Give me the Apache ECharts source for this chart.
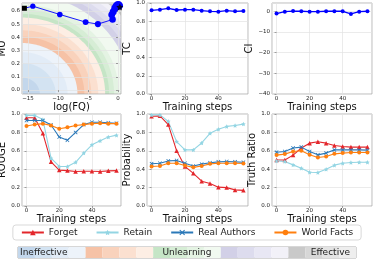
<!DOCTYPE html>
<html><head><meta charset="utf-8">
<script src="https://cdn.jsdelivr.net/npm/echarts@6/dist/echarts.min.js"></script>
<style>html,body{margin:0;padding:0;background:#fff}#c{width:374px;height:260px}</style>
</head><body><div id="c"></div>
<script>
// ---------- data ----------
const steps = [0, 5, 10, 15, 20, 25, 30, 35, 40, 45, 50, 55];
const logFQ = [-15.6, -14.2, -9.7, -5.4, -3.35, -0.9, -1.05, -0.8, -0.5, -0.25, 0.0, 0.15];
const muVals = [0.62, 0.636, 0.573, 0.515, 0.50, 0.535, 0.57, 0.593, 0.62, 0.636, 0.645, 0.64];
const refFQ = [0.3];
const refMU = [0.63];
const tcVals = [0.919, 0.927, 0.941, 0.923, 0.927, 0.927, 0.916, 0.908, 0.905, 0.916, 0.908, 0.912];
const ciVals = [-1.1, -0.2, 0.1, 0.0, -0.2, -0.2, 0.0, 0.0, 0.0, -1.3, -0.2, 0.0];

const rougeForget  = [0.96, 0.96, 0.79, 0.48, 0.39, 0.385, 0.375, 0.378, 0.378, 0.375, 0.382, 0.385];
const rougeRetain  = [0.985, 0.985, 0.94, 0.52, 0.43, 0.43, 0.475, 0.575, 0.665, 0.71, 0.75, 0.77];
const rougeReal    = [0.93, 0.93, 0.93, 0.88, 0.75, 0.715, 0.80, 0.885, 0.91, 0.91, 0.905, 0.90];
const rougeWorld   = [0.87, 0.885, 0.895, 0.875, 0.84, 0.855, 0.875, 0.885, 0.895, 0.90, 0.895, 0.895];

const probForget   = [0.975, 0.98, 0.885, 0.60, 0.43, 0.355, 0.27, 0.245, 0.205, 0.20, 0.175, 0.17];
const probRetain   = [0.99, 0.99, 0.92, 0.70, 0.61, 0.61, 0.685, 0.79, 0.835, 0.865, 0.875, 0.89];
const probReal     = [0.46, 0.465, 0.49, 0.495, 0.465, 0.435, 0.455, 0.47, 0.48, 0.483, 0.48, 0.476];
const probWorld    = [0.43, 0.435, 0.465, 0.465, 0.44, 0.42, 0.435, 0.458, 0.465, 0.465, 0.465, 0.462];

const trForget     = [0.50, 0.50, 0.553, 0.63, 0.683, 0.698, 0.683, 0.658, 0.647, 0.64, 0.64, 0.64];
const trRetain     = [0.49, 0.484, 0.447, 0.41, 0.367, 0.364, 0.40, 0.444, 0.465, 0.473, 0.476, 0.476];
const trReal       = [0.585, 0.593, 0.63, 0.64, 0.593, 0.556, 0.575, 0.61, 0.61, 0.61, 0.61, 0.607];
const trWorld      = [0.553, 0.564, 0.593, 0.60, 0.556, 0.527, 0.538, 0.567, 0.575, 0.582, 0.582, 0.582];

const seriesNames = ['Forget', 'Retain', 'Real Authors', 'World Facts'];
// contour levels (normalised radius from the lower-left corner of the MU/log(FQ) panel)
const bandEdges = [0.18, 0.34, 0.46, 0.56, 0.63, 0.70, 0.77, 0.84, 0.88, 0.93, 0.98, 1.10, 1.16, 1.21, 1.27, 1.32, 1.35, 1.38, 1.40, 1.50];
const bandColors = ['#c3d7ec', '#d3e3f2', '#e2ecf7', '#edf3fa',
                    '#f6c2a6', '#f9d2bc', '#fbe0d0', '#fdeee4',
                    '#c5e5c6', '#d6edd5', '#e4f3e3', '#f1f9f0',
                    '#d2d0e7', '#dddcee', '#e8e7f4', '#f2f1f8',
                    '#c9c9c9', '#d7d7d7', '#e3e3e3', '#eeeeee'];
const scaleLabels = ['Ineffective', 'Unlearning', 'Effective'];

// ---------- styling helpers ----------
const FONT = 'DejaVu Sans';
const C = { forget: '#e3262b', retain: '#93d5e3', real: '#2a78b8', world: '#ff7f0e', blue: '#0000ff' };
const STAR = 'path://M0,-10L2.9,-4L9.5,-3.1L4.7,1.5L5.9,8.1L0,5L-5.9,8.1L-4.7,1.5L-9.5,-3.1L-2.9,-4Z';
const XMARK = 'path://M-5,-3.6L-3.6,-5L0,-1.4L3.6,-5L5,-3.6L1.4,0L5,3.6L3.6,5L0,1.4L-3.6,5L-5,3.6L-1.4,0Z';

function fmt(step, dec) {
  return function (v) {
    const k = Math.round(v / step);
    if (Math.abs(v - k * step) > 1e-6) return '';
    let s = (k * step).toFixed(dec);
    if (s === '-0' || s === '-0.0') s = s.slice(1);
    if (s.charAt(0) === '-') s = '\u2212' + s.slice(1);
    return s;
  };
}
function axisBase(extra) {
  return Object.assign({
    type: 'value',
    axisLine: { show: false },
    axisTick: { show: true, length: 2, lineStyle: { color: '#666', width: 0.6 } },
    splitLine: { show: true, lineStyle: { color: '#e2e2e2', width: 0.7 } },
    axisLabel: { fontSize: 5.5, color: '#222', margin: 2, fontFamily: FONT, showMinLabel: false, showMaxLabel: false },
    nameLocation: 'middle',
    nameTextStyle: { fontSize: 10, color: '#111', fontFamily: FONT }
  }, extra);
}
function stepX(grid, gap) {
  const a = axisBase({ gridIndex: grid, min: -2.75, max: 57.75, splitNumber: 3, name: 'Training steps', nameGap: gap });
  a.axisLabel = Object.assign({}, a.axisLabel, { formatter: fmt(20, 0) });
  return a;
}
function unitY(grid, name, gap) {
  const a = axisBase({ gridIndex: grid, min: 0, max: 1, interval: 0.2, name: name, nameGap: gap });
  a.axisLabel = Object.assign({}, a.axisLabel, { formatter: fmt(0.2, 1), showMinLabel: true, showMaxLabel: true });
  return a;
}

const grids = [
  { left: 22, top: 3, width: 99, height: 91 },
  { left: 147, top: 3, width: 101, height: 91 },
  { left: 272, top: 3, width: 100, height: 91 },
  { left: 22, top: 114, width: 99, height: 92 },
  { left: 147, top: 114, width: 101, height: 92 },
  { left: 272, top: 114, width: 100, height: 92 },
  { left: 18, top: 247, width: 338, height: 11 }
].map((g, i) => Object.assign({ show: true, borderColor: i === 6 ? '#999' : '#aaa', borderWidth: 0.8, backgroundColor: 'transparent', containLabel: false, outerBoundsMode: 'none' }, g));

const X0 = -16, SX = 16.5, Y0 = -0.03, SY = 0.69;

const xAxes = [
  (function () { const a = axisBase({ gridIndex: 0, min: -16, max: 0.5, splitNumber: 3, name: 'log(FQ)', nameGap: 4 });
    a.axisLabel = Object.assign({}, a.axisLabel, { formatter: fmt(5, 0) }); return a; })(),
  stepX(1, 4), stepX(2, 4), stepX(3, 4), stepX(4, 4), stepX(5, 4),
  { type: 'category', gridIndex: 6, data: bandColors.map((c, i) => i), show: false, boundaryGap: true }
];
const yAxes = [
  (function () { const a = axisBase({ gridIndex: 0, min: -0.03, max: 0.66, splitNumber: 7, name: 'MU', nameGap: 14 });
    a.axisLabel = Object.assign({}, a.axisLabel, { formatter: fmt(0.1, 1) }); return a; })(),
  unitY(1, 'TC', 12),
  (function () { const a = axisBase({ gridIndex: 2, min: -40, max: 4, interval: 10, name: 'CI', nameGap: 15 });
    a.axisLabel = Object.assign({}, a.axisLabel, { formatter: fmt(10, 0), showMinLabel: true }); return a; })(),
  unitY(3, 'ROUGE', 15),
  unitY(4, 'Probability', 12),
  unitY(5, 'Truth Ratio', 12),
  { type: 'value', gridIndex: 6, min: 0, max: 1, show: false }
];

const series = [];
// background contour bands
series.push({
  type: 'custom', xAxisIndex: 0, yAxisIndex: 0, z: -1, clip: true, silent: true,
  data: bandEdges.map((r, i) => [bandEdges.length - 1 - i, 0]),
  renderItem: function (params, api) {
    const i = api.value(0);
    const r = bandEdges[i];
    const pts = [api.coord([X0, Y0])];
    const N = 60;
    for (let k = 0; k <= N; k++) {
      const t = k / N * Math.PI / 2;
      pts.push(api.coord([X0 + SX * r * Math.cos(t), Y0 + SY * r * Math.sin(t)]));
    }
    return { type: 'polygon', shape: { points: pts }, style: { fill: bandColors[i] } };
  }
});
series.push({
  type: 'line', xAxisIndex: 0, yAxisIndex: 0, z: 3,
  data: logFQ.map((x, i) => i === 0 ? { value: [x, muVals[i]], symbol: 'rect', itemStyle: { color: '#000' } } : [x, muVals[i]]),
  symbol: 'circle',
  symbolSize: function (v, p) { return p.dataIndex === 0 ? 5 : 5 + p.dataIndex * 0.3; },
  lineStyle: { color: C.blue, width: 0.9 }, itemStyle: { color: C.blue },
  animation: false
});
series.push({
  type: 'scatter', xAxisIndex: 0, yAxisIndex: 0, z: 4,
  data: refFQ.map((x, i) => [x, refMU[i]]), symbol: STAR, symbolSize: 7,
  itemStyle: { color: '#000' }, animation: false
});
series.push({
  type: 'line', xAxisIndex: 1, yAxisIndex: 1, data: steps.map((s, i) => [s, tcVals[i]]),
  symbol: 'circle', symbolSize: 4, lineStyle: { color: C.blue, width: 1.3 }, itemStyle: { color: C.blue }, animation: false
});
series.push({
  type: 'line', xAxisIndex: 2, yAxisIndex: 2, data: steps.map((s, i) => [s, ciVals[i]]),
  symbol: 'circle', symbolSize: 4, lineStyle: { color: C.blue, width: 1.3 }, itemStyle: { color: C.blue }, animation: false
});
const styles = [
  { color: C.forget, symbol: 'triangle', size: 4.5 },
  { color: C.retain, symbol: STAR, size: 4.5 },
  { color: C.real, symbol: XMARK, size: 4 },
  { color: C.world, symbol: 'circle', size: 4 }
];
const metrics = [
  [rougeForget, rougeRetain, rougeReal, rougeWorld],
  [probForget, probRetain, probReal, probWorld],
  [trForget, trRetain, trReal, trWorld]
];
metrics.forEach((group, gi) => {
  group.forEach((vals, si) => {
    const st = styles[si];
    series.push({
      type: 'line', name: seriesNames[si], xAxisIndex: 3 + gi, yAxisIndex: 3 + gi,
      data: steps.map((s, i) => [s, vals[i]]),
      symbol: st.symbol, symbolSize: st.size,
      lineStyle: { color: st.color, width: 1.1 }, itemStyle: { color: st.color },
      animation: false
    });
  });
});
// colour scale bar
series.push({
  type: 'bar', xAxisIndex: 6, yAxisIndex: 6, barCategoryGap: '0%', silent: true,
  data: bandColors.map((c) => ({ value: 1, itemStyle: { color: c } })), animation: false
});

const option = {
  animation: false,
  textStyle: { fontFamily: FONT },
  grid: grids, xAxis: xAxes, yAxis: yAxes, series: series,
  legend: {
    data: seriesNames, top: 225, left: 'center',
    padding: [3, 8], itemGap: 18, itemWidth: 22, itemHeight: 7,
    borderColor: '#cfcfcf', borderWidth: 0.8, borderRadius: 3,
    textStyle: { fontSize: 9, color: '#222', fontFamily: FONT }
  },
  graphic: [
    { type: 'text', x: 20, y: 253, z: 100, style: { text: scaleLabels[0], font: '9px "DejaVu Sans"', fill: '#222', align: 'left', verticalAlign: 'middle' } },
    { type: 'text', x: 187, y: 253, z: 100, style: { text: scaleLabels[1], font: '9px "DejaVu Sans"', fill: '#222', align: 'center', verticalAlign: 'middle' } },
    { type: 'text', x: 350, y: 253, z: 100, style: { text: scaleLabels[2], font: '9px "DejaVu Sans"', fill: '#222', align: 'right', verticalAlign: 'middle' } }
  ]
};
const chart = echarts.init(document.getElementById('c'), null, { renderer: 'canvas' });
chart.setOption(option);
</script></body></html>
